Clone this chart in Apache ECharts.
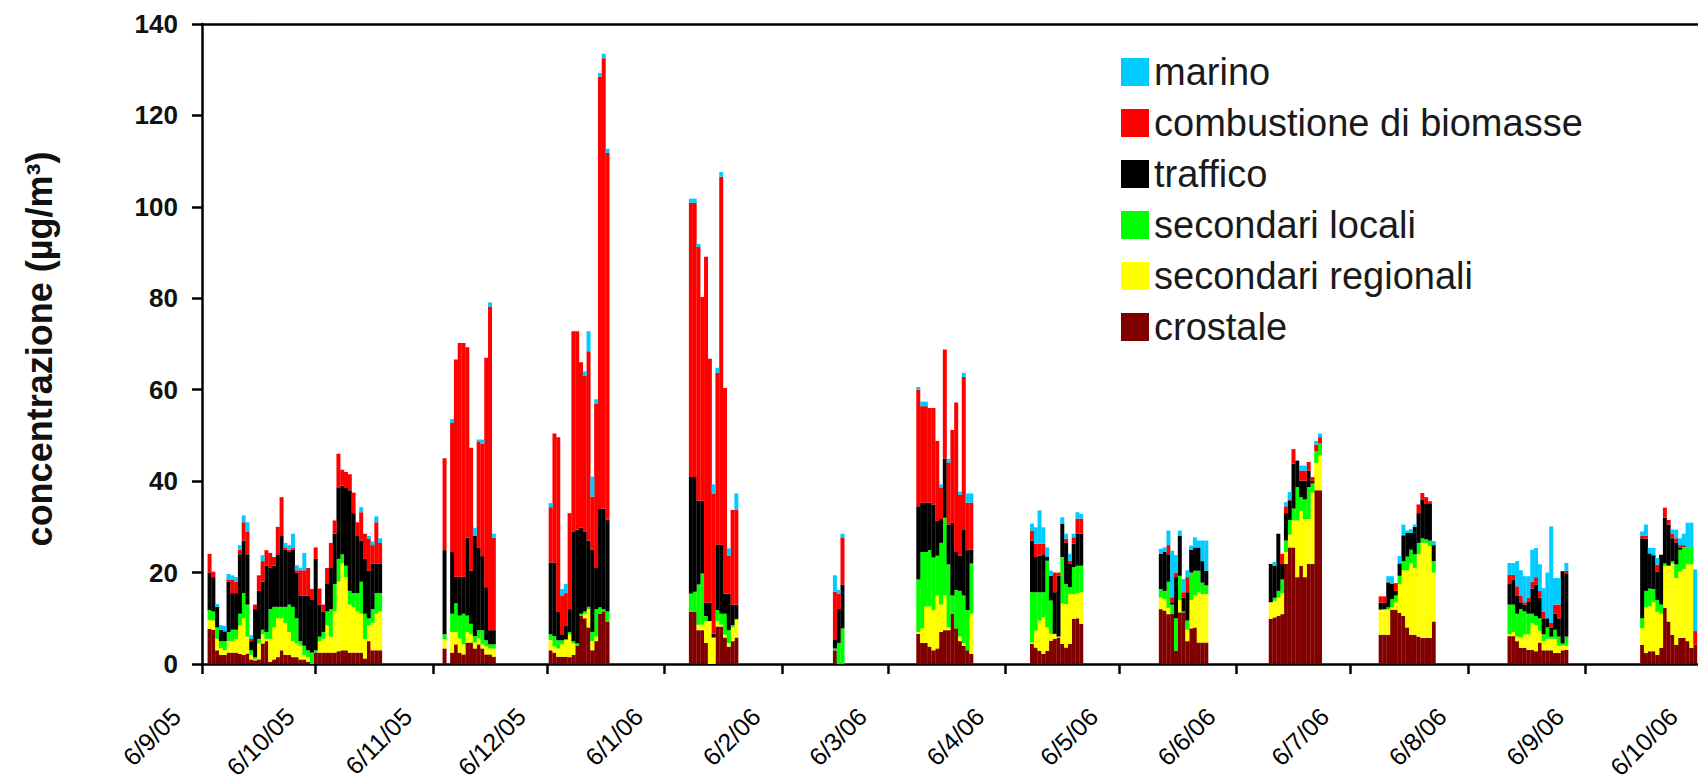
<!DOCTYPE html>
<html><head><meta charset="utf-8">
<script src="https://cdn.jsdelivr.net/npm/echarts@6/dist/echarts.min.js"></script>
<style>html,body{margin:0;padding:0;background:#fff}#c{width:1698px;height:781px}</style>
</head><body><div id="c"></div>
<script>
// x-axis ticks (monthly, dd/mm/yy)
const tickDates = ['2005-09-06','2005-10-06','2005-11-06','2005-12-06','2006-01-06','2006-02-06','2006-03-06','2006-04-06','2006-05-06','2006-06-06','2006-07-06','2006-08-06','2006-09-06','2006-10-06'];
const tickLabels = ['6/9/05','6/10/05','6/11/05','6/12/05','6/1/06','6/2/06','6/3/06','6/4/06','6/5/06','6/6/06','6/7/06','6/8/06','6/9/06','6/10/06'];
// sampling campaigns: first day and number of consecutive daily samples
const segmentStarts = ['2005-09-08','2005-11-09','2005-12-07','2006-01-13','2006-02-20','2006-03-14','2006-04-13','2006-05-17','2006-06-15','2006-07-14','2006-08-17','2006-09-21'];
const segmentLengths = [46,14,16,13,3,15,14,13,14,15,16,15];

const crostale = [
7.7,7.5,3,2,2,2.5,2.5,2.5,2.2,2,2.3,1,0.8,1,4.5,5,0.5,1,1.5,3,2,2,1.5,1.5,1,1,0.5,0,2.5,2.5,2.5,2.5,2.5,2.5,2.8,3,3,2.5,2.5,2.5,2.5,1.2,5,3,3,3,
3.4,0,2.5,4.3,2.5,2.1,4.7,4.7,3.4,4.3,3.4,2.1,2.1,1.6,
3,2.5,1.6,1.6,1.6,1.5,2,4,10.6,10,8,3,5,11,11.5,9.2,
11.4,11.4,7.4,7.4,4.6,0,0,8.2,8.2,5.8,3.8,5,5.8,
3,0,0,
6.6,4.6,4.6,3.8,3,3.4,7,7.4,7.4,11,7.8,5,4,3,2.2,
4.4,3.6,2.9,2.2,2.9,5.1,5.5,5.8,4.4,3.6,4.4,9.9,10,8.8,
12,11.7,10.9,11,2.9,11.3,11.3,5,7.8,8,4.7,4.7,4.7,
9.9,10.2,10.5,10.9,21.9,25.5,25.5,19,21.5,19,21.9,21.9,38,38,
6.4,6.4,6.4,11.9,11.9,11.2,10.5,8,6.4,6.4,6,5.7,5.7,5.7,9.3,
6.1,6.1,5,3.5,3.5,3.1,3.1,2.8,4.7,3,3,3,2.4,2.4,3,3.1,
4.2,2.4,2.8,2.8,2,3.5,12.3,9.3,6.4,4.2,5.7,5.7,5,3.5,4.2];
const secondariRegionali = [
1.9,2,2.5,1.5,1,2.5,2.5,3,6.3,8,3.7,1,0.2,3.5,2,0.5,5,7,8.5,7,7,5,3.5,3,3,1,1,0,0,2.5,3,6,3.5,9,15.2,19,16,10.5,10,9,8.5,4.3,3.5,6,8,8.5,
2,0,4.5,2.7,3.1,2.2,2.3,1.8,1.3,1.3,0.9,1.8,1.3,1.8,
2.2,1.4,1.8,2.7,3.6,5,2.5,0,0,1,4,2,1,0,0,0,
0,0,1.2,1.2,4.8,9.4,5.8,1.2,0.4,0.6,0.8,3,4,
0,0,0,
0.4,3.2,8,8.8,8.8,11.6,6,7.6,0.6,0,0,1,0.6,0,8.8,
0.3,3.7,6.6,8,5.1,1.5,1.1,0.2,8.8,9.5,10.9,5.4,5.5,6.9,
2.5,2.5,1.4,0,0,2.7,0,2.5,6.2,7,11,10.6,10.6,
3.6,3.6,4,4.6,2.6,2.8,5.9,12.4,12,12.7,9.8,15.6,6,7.6,
5.5,5.5,5.5,0.5,1.6,6.3,10,12.5,15.6,14.6,18,20.8,20.8,20.1,10.7,
0.4,0.9,1,2.3,3,3.4,5.8,5.7,2.6,2,2.5,2.5,3.1,1.6,1,0.9,
3.6,10,9.8,10.7,9.4,7.5,9.2,12.2,15.6,14.6,14.6,15.1,16.8,18.3,0];
const secondariLocali = [
2.2,2,2.5,1.5,2,2,2.5,2,2.5,5.5,7,1,0.5,1,1,1.5,6.5,4.5,2.5,2.5,3.5,6,7.5,5.5,1,2,1.5,2.5,0.5,1,1.5,3,6,6,5,2,2.5,3,3,4,7,5.5,1.5,3,4.5,4,
1.1,0,4,6.3,5,6.7,3.6,2.3,1.4,1.8,3.1,1.3,0.9,0.9,
1.3,2.2,1.8,0.9,0.2,0.5,0.5,0.5,0.4,0.5,0.5,2,6,1.4,0.5,2.3,
4,4.4,8.8,11.2,1.1,0,0,2.4,2.4,4.6,2.8,0.5,0,
0.4,4.6,7.8,
11.5,16.7,11.9,12.3,11.5,8.7,13.5,17,13.8,4,8.4,10,10.4,8.8,11,
11,8.4,6.2,5.5,14.6,7.3,0,0,10.2,4.4,1.5,5.9,6,5.8,
1.9,1.8,5.7,2,7.1,5.3,0.2,2,6,5.4,4.7,2.5,1.9,
0,0.7,1.5,3,2.5,3.2,2.6,7.3,3,4.3,7,2,2.5,2.6,
0,0.1,0.5,1.8,1.5,1.8,2,3,3,3,2.5,1,0.8,1.2,2.5,
6.5,6,5,6.2,5,4.5,2.1,2,2.7,1.5,2.5,0.5,2,2,0.5,2,
2.2,3.6,3.9,2.9,2.6,2,0.5,0,0.5,3,4.7,4.7,3.6,3.6,0];
const traffico = [
8.2,7.5,4.5,2.5,2,11,8,8,13,11.5,11,2,10.5,10.5,10.5,14.5,9,9,11.5,15.5,12.5,11.5,12.5,10,10,11,12,11.5,20,7,4.5,6,9,11,15.5,15,17,22,17.5,12.5,9,12,10.4,10,6.5,6.5,
18.4,0,13.5,5.8,8.5,8.1,17,11.6,21.9,18,16.2,11.6,3.1,3.1,
15.7,16.1,6.3,1.3,2.9,5,24,24.9,18.8,17.5,14.5,18,9,21.5,22,20.1,
25.5,25.1,18.3,15.9,2.9,4,0.8,14.3,15.1,4.4,8,4.5,3.2,
2,7.4,9.6,
16,10.8,10.8,10.4,11.6,7.6,5.2,12.9,8.7,15.9,8.3,7.7,14.3,13.1,3,
11.3,7.7,8,8.3,0.9,5.4,9.1,13.3,7.3,9.1,5.1,5.1,7,7,
7.7,8.5,6,0.5,9,8.8,3,6.2,5,5.1,5.1,4.7,3.2,
8.4,7,12.5,3.5,6,4.3,9.8,5.8,3.6,4.1,3.6,0.5,0,0,
1.5,1.4,5.4,3.3,1,2.7,5.5,5.2,3.7,6,6.5,8.5,7.7,8,3.5,
4.5,5.5,4,1.5,1.5,2.7,5.5,6.9,4.5,3.5,2,2,3.5,4,15.8,13.7,
17.5,11.4,7.7,7.4,6.2,10.9,10,9,5,4.8,0.5,0,0,0,0];
const combustioneBiomasse = [
4.1,1.2,0,0,0.2,0.5,3,2.5,1,4,5,0.5,1,3.4,4.5,3.4,3.3,1.9,6,8.5,0.5,0.5,0.5,0.5,5.5,5.5,6,2.4,2.5,3.5,1.5,3.5,5.5,2.9,7.5,3.5,3.5,3.5,4.5,3,6.2,5.5,7,4,9,4.5,
20.1,0,28.2,47.5,51.1,51.1,41.7,26.9,0,23.3,24.6,50.2,70.8,20.2,
12.1,28.2,38.1,8.5,7.2,21,43.8,43.4,36.2,34,41.4,11.6,36,94.6,98.5,80.2,
60,60,55.5,44.6,75.7,53.4,30.7,37.6,80.5,45,8.3,20.7,20.7,
10.4,3.4,10.3,
25.5,21.1,21.1,20.7,21.1,17.5,6.8,23.9,13.6,20.3,32.7,13.3,33.5,10.4,10.3,
2.2,2.9,2.6,2.3,0,0,4.3,0.7,0,0.8,0.7,1.4,3.3,3.3,
0,0,2,1.1,1,0,1.2,3.3,0,0,0,0,0,
0,0,0,2.1,1.5,0.2,3.2,0,2.2,2.2,1.9,0.9,1.5,1.4,
1.4,1.4,0.2,0,1.7,0,0.2,0,0,0,1.9,1.4,1.5,0.6,0,
2,1,2,1.5,0.5,0.8,1.5,1.6,1.5,1.5,0,1,2,3,0,0.7,
0.5,0.7,0,0,1.5,0,2.2,1,1,0.9,0.5,0.5,0,0,3];
const marino = [
0,0,0.6,1,1.1,1.2,0.9,1,1,1.5,2,0.8,0,0,1.3,0,0,0,0,0,1,1,3,1.1,0.5,3.8,0,0,0,0,0,0,0,0,0,0,0,0,0,0,1.1,0,0.6,0.8,1.3,1,
0,0,0.9,0,0,0,0,0,1.8,0.4,0.9,0,0.9,0.9,
0.9,0,0,1.4,2,0,0,0,0,1,4.4,4.4,0.9,0.8,1,0.9,
0.9,0.9,0.7,0,0,0,2,1.1,1,0,1.6,0,3.6,
3.6,0.8,0.8,
0.6,1,1,0,0,0,0.8,0,0.8,0,0,0.7,0.9,2,2,
1.5,3.6,7.3,3.6,2,1.1,0,0,1.4,1.1,1.5,0.8,1.4,1,
1.1,1,3.2,10.2,3.8,1.1,2.9,1.5,0.9,2.2,1.5,4.5,6.6,
0,0.8,0,0,0.9,1.6,0,0,1.1,1.1,0,0,0.8,0.8,
0,0,1.2,1.7,0,1.6,2.3,0.5,0.8,0.5,0,0,0,0,0.9,
2.6,2.6,5.5,5.5,5.7,4.7,7,6.4,5.8,5.1,10,21.1,5.8,5.8,0,1.7,
1,2.4,1.2,1.6,1.5,0,0,0,0.9,1.9,1.5,2.5,5.5,5.5,13.5];

const seriesNames = ['crostale','secondari regionali','secondari locali','traffico','combustione di biomasse','marino'];
const seriesColors = ['#800000','#FFFF00','#00FF00','#000000','#FF0000','#00CCFF'];
const seriesValues = [crostale, secondariRegionali, secondariLocali, traffico, combustioneBiomasse, marino];

const DAY = 86400000, ORIGIN = Date.UTC(2005,8,6);
function dayIndex(s){const p=s.split('-').map(Number);return Math.round((Date.UTC(p[0],p[1]-1,p[2])-ORIGIN)/DAY);}
const tickDays = tickDates.map(dayIndex);
const nDays = tickDays[tickDays.length-1] + 1;
// one category per calendar day (date axis)
const categories = [];
for (let i=0;i<nDays;i++){ categories.push(new Date(ORIGIN + i*DAY).toISOString().slice(0,10)); }
const sampleDays=[];
segmentStarts.forEach((s,i)=>{const d0=dayIndex(s);for(let k=0;k<segmentLengths[i];k++)sampleDays.push(d0+k);});

const chart = echarts.init(document.getElementById('c'), null, {renderer:'svg'});
const FONT = '"Liberation Sans", Arial, sans-serif';
const isTick = (idx)=> tickDays.indexOf(idx) >= 0;
chart.setOption({
  animation:false,
  backgroundColor:'#fff',
  grid:{left:202, top:24, width:1497, height:640, containLabel:false, outerBoundsMode:'none'},
  legend:{
    orient:'vertical', left:1116, top:48, itemWidth:28, itemHeight:28, itemGap:13,
    icon:'rect', selectedMode:false,
    data:['marino','combustione di biomasse','traffico','secondari locali','secondari regionali','crostale'],
    textStyle:{fontSize:38, color:'#1a1a1a', fontFamily:FONT}
  },
  xAxis:[{
    type:'category', data:categories, boundaryGap:false, position:'bottom',
    axisLine:{show:true, onZero:false, lineStyle:{color:'#000', width:2.5}},
    axisTick:{show:true, interval:(idx)=>isTick(idx), length:10, lineStyle:{color:'#000', width:2.5}},
    axisLabel:{interval:(idx)=>isTick(idx), rotate:45, fontSize:25, color:'#000', fontFamily:FONT,
      margin:40, align:'right', verticalAlign:'bottom', padding:[0,24,0,0],
      formatter:(v,idx)=>{const i=tickDays.indexOf(idx);return i>=0?tickLabels[i]:'';}},
    splitLine:{show:false}
  },{
    type:'value', min:0, max:nDays-1, position:'top',
    axisLine:{show:true, onZero:false, lineStyle:{color:'#000', width:2.5}},
    axisTick:{show:false}, axisLabel:{show:false}, splitLine:{show:false}
  }],
  yAxis:{
    type:'value', min:0, max:140, interval:20,
    axisLine:{show:true, lineStyle:{color:'#000', width:2.5}},
    axisTick:{show:true, length:10, lineStyle:{color:'#000', width:2.5}},
    axisLabel:{fontSize:26, fontWeight:'bold', color:'#111', fontFamily:FONT, margin:24},
    splitLine:{show:false},
    name:'concentrazione (µg/m³)', nameLocation:'middle', nameRotate:90, nameGap:145,
    nameTextStyle:{fontSize:36, fontWeight:'bold', color:'#111', fontFamily:FONT, padding:[0,10,0,0]}
  },
  series: seriesNames.map((n,si)=>{
    const arr = new Array(nDays).fill(null);
    sampleDays.forEach((d,k)=>{ arr[d] = seriesValues[si][k]; });
    return {
      name:n, type:'bar', stack:'total', xAxisIndex:0, barWidth:4,
      itemStyle:{color:seriesColors[si]},
      emphasis:{disabled:true},
      data: arr
    };
  })
});
</script></body></html>
